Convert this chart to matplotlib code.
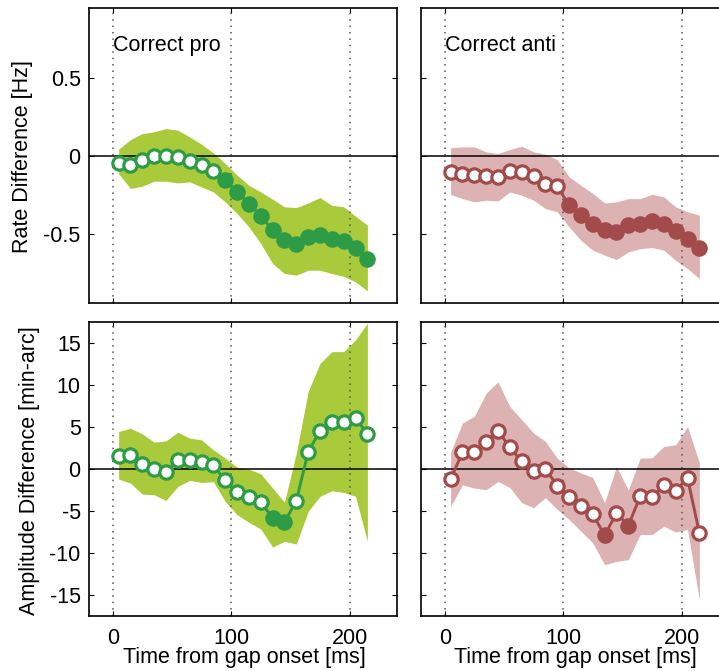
import matplotlib
matplotlib.use("Agg")
import matplotlib.pyplot as plt

plt.rcParams['font.family'] = ['Liberation Sans', 'DejaVu Sans']

times = [5, 15, 25, 35, 45, 55, 65, 75, 85, 95, 105, 115, 125, 135, 145, 155, 165, 175, 185, 195, 205, 215]

# Rate difference, correct pro
pro_rate = [-0.045, -0.058, -0.026, 0.0, 0.002, -0.009, -0.03, -0.058, -0.10, -0.157, -0.23,
            -0.307, -0.386, -0.479, -0.543, -0.564, -0.524, -0.509, -0.536, -0.551, -0.592, -0.661]
pro_rate_hi = [0.043, 0.105, 0.144, 0.155, 0.176, 0.165, 0.122, 0.075, 0.019, -0.049, -0.124,
               -0.189, -0.232, -0.279, -0.328, -0.333, -0.303, -0.268, -0.318, -0.328, -0.388, -0.446]
pro_rate_lo = [-0.114, -0.21, -0.195, -0.163, -0.163, -0.174, -0.167, -0.2, -0.232, -0.296, -0.371,
               -0.457, -0.564, -0.693, -0.757, -0.768, -0.736, -0.736, -0.757, -0.775, -0.811, -0.869]
pro_rate_sig = [0, 0, 0, 0, 0, 0, 0, 0, 0, 1, 1, 1, 1, 1, 1, 1, 1, 1, 1, 1, 1, 1]

# Rate difference, correct anti
anti_rate = [-0.103, -0.114, -0.122, -0.131, -0.139, -0.097, -0.101, -0.131, -0.178, -0.195, -0.318,
             -0.382, -0.436, -0.479, -0.489, -0.446, -0.44, -0.418, -0.44, -0.483, -0.536, -0.592]
anti_rate_hi = [0.052, 0.058, 0.058, 0.026, 0.015, 0.041, 0.062, 0.026, 0.011, -0.024, -0.135,
                -0.189, -0.242, -0.303, -0.296, -0.275, -0.275, -0.247, -0.264, -0.328, -0.36, -0.382]
anti_rate_lo = [-0.249, -0.275, -0.296, -0.285, -0.29, -0.232, -0.253, -0.285, -0.339, -0.36, -0.457,
                -0.543, -0.607, -0.639, -0.667, -0.618, -0.597, -0.59, -0.607, -0.672, -0.725, -0.79]
anti_rate_sig = [0, 0, 0, 0, 0, 0, 0, 0, 0, 0, 1, 1, 1, 1, 1, 1, 1, 1, 1, 1, 1, 1]

# Amplitude difference, correct pro
pro_amp = [1.59, 1.67, 0.6, 0.0, -0.36, 1.11, 1.11, 0.87, 0.44, -1.35, -2.74,
           -3.29, -3.93, -5.83, -6.35, -3.77, 2.02, 4.56, 5.67, 5.56, 6.07, 4.21]
pro_amp_hi = [4.48, 4.88, 4.2, 3.21, 3.37, 4.4, 3.69, 3.49, 2.3, 1.31, 0.24,
              0.0, -0.56, -2.26, -3.93, 1.9, 9.25, 12.6, 14.0, 14.0, 15.4, 17.4]
pro_amp_lo = [-1.19, -1.67, -2.98, -3.06, -3.73, -2.06, -1.35, -1.59, -1.51, -3.85, -5.44,
              -6.35, -7.14, -9.29, -8.61, -8.93, -5.04, -3.25, -2.58, -2.78, -3.25, -8.61]
pro_amp_sig = [0, 0, 0, 0, 0, 0, 0, 0, 0, 0, 0, 0, 0, 1, 1, 0, 0, 0, 0, 0, 0, 0]

# Amplitude difference, correct anti
anti_amp = [-1.19, 1.98, 2.02, 3.29, 4.6, 2.58, 0.91, -0.28, 0.04, -1.98, -3.33,
            -4.44, -5.36, -7.9, -5.24, -6.75, -3.25, -3.33, -1.94, -2.58, -1.07, -7.62]
anti_amp_hi = [2.0, 5.5, 6.3, 9.05, 10.4, 7.45, 5.9, 4.3, 3.3, 1.3, 0.15,
               -0.45, -1.0, -4.0, 0.3, -2.5, 1.3, 1.35, 2.7, 2.9, 5.07, 0.75]
anti_amp_lo = [-4.45, -1.87, -2.26, -2.46, -1.47, -2.2, -4.0, -4.6, -3.4, -4.8, -6.0,
               -7.4, -8.8, -11.4, -11.0, -10.8, -7.8, -7.8, -6.8, -7.5, -7.2, -15.6]
anti_amp_sig = [0, 0, 0, 0, 0, 0, 0, 0, 0, 0, 0, 0, 0, 1, 0, 1, 0, 0, 0, 0, 0, 0]

panel_titles = ["Correct pro", "Correct anti"]
x_label = "Time from gap onset [ms]"
x_ticks = [0, 100, 200]
rate_ticks = [-0.5, 0, 0.5]
rate_ticklabels = ["-0.5", "0", "0.5"]
amp_ticks = [-15, -10, -5, 0, 5, 10, 15]
amp_ticklabels = ["-15", "-10", "-5", "0", "5", "10", "15"]

green_band = '#a9ca3b'
green_line = '#2e9c47'
red_band = '#dcb2b2'
red_line = '#a34a4a'
FS = 15.5

W, H = 719, 671
fig = plt.figure(figsize=(W / 100, H / 100), dpi=100)

def px_axes(x0, y0, x1, y1):
    return fig.add_axes([x0 / W, 1 - y1 / H, (x1 - x0) / W, (y1 - y0) / H])

ax_tl = px_axes(89, 8.3, 397, 302.7)
ax_tr = px_axes(421, 8.3, 729, 302.7)
ax_bl = px_axes(89, 322.3, 397, 615.5)
ax_br = px_axes(421, 322.3, 729, 615.5)

def draw(ax, y, lo, hi, sig, band, line, ylim, yticks, yticklabels, show_y, show_x):
    ax.fill_between(times, lo, hi, color=band, lw=0, zorder=1)
    for xv in x_ticks:
        ax.axvline(xv, color='#555555', ls=(0, (1, 3.2)), lw=1.1, zorder=2)
    ax.axhline(0, color='black', lw=1.1, zorder=2)
    ax.plot(times, y, color=line, lw=2.1, zorder=3)
    for t, v, s in zip(times, y, sig):
        ax.plot([t], [v], 'o', ms=9.6, mew=2.3, mec=line,
                mfc=line if s else 'white', zorder=4)
    ax.set_xlim(-20, 240)
    ax.set_ylim(*ylim)
    ax.set_xticks(x_ticks)
    ax.set_yticks(yticks)
    ax.tick_params(direction='in', length=3.5, width=0.8, top=True, right=True,
                   labelsize=FS, pad=6)
    ax.tick_params(axis='x', pad=9)
    if show_y:
        ax.set_yticklabels(yticklabels)
    else:
        ax.set_yticklabels([])
    if show_x:
        ax.set_xticklabels([str(v) for v in x_ticks])
    else:
        ax.set_xticklabels([])
    for sp in ax.spines.values():
        sp.set_linewidth(1.2)

draw(ax_tl, pro_rate, pro_rate_lo, pro_rate_hi, pro_rate_sig, green_band, green_line,
     (-0.945, 0.95), rate_ticks, rate_ticklabels, True, False)
draw(ax_tr, anti_rate, anti_rate_lo, anti_rate_hi, anti_rate_sig, red_band, red_line,
     (-0.945, 0.95), rate_ticks, rate_ticklabels, False, False)
draw(ax_bl, pro_amp, pro_amp_lo, pro_amp_hi, pro_amp_sig, green_band, green_line,
     (-17.45, 17.5), amp_ticks, amp_ticklabels, True, True)
draw(ax_br, anti_amp, anti_amp_lo, anti_amp_hi, anti_amp_sig, red_band, red_line,
     (-17.45, 17.5), amp_ticks, amp_ticklabels, False, True)

ax_tl.text(0, 0.71, panel_titles[0], fontsize=FS, ha='left', va='center')
ax_tr.text(0, 0.71, panel_titles[1], fontsize=FS, ha='left', va='center')

fig.text(244.5 / W, 1 - 658 / H, x_label, fontsize=FS, ha='center', va='center')
fig.text(575 / W, 1 - 658 / H, x_label, fontsize=FS, ha='center', va='center')

fig.text(23 / W, 1 - 157 / H, "Rate Difference [Hz]", rotation=90, fontsize=FS,
         ha='center', va='center')
fig.text(29.5 / W, 1 - 471 / H, "Amplitude Difference [min-arc]", rotation=90, fontsize=FS,
         ha='center', va='center')

fig.savefig("out.png", dpi=100)
